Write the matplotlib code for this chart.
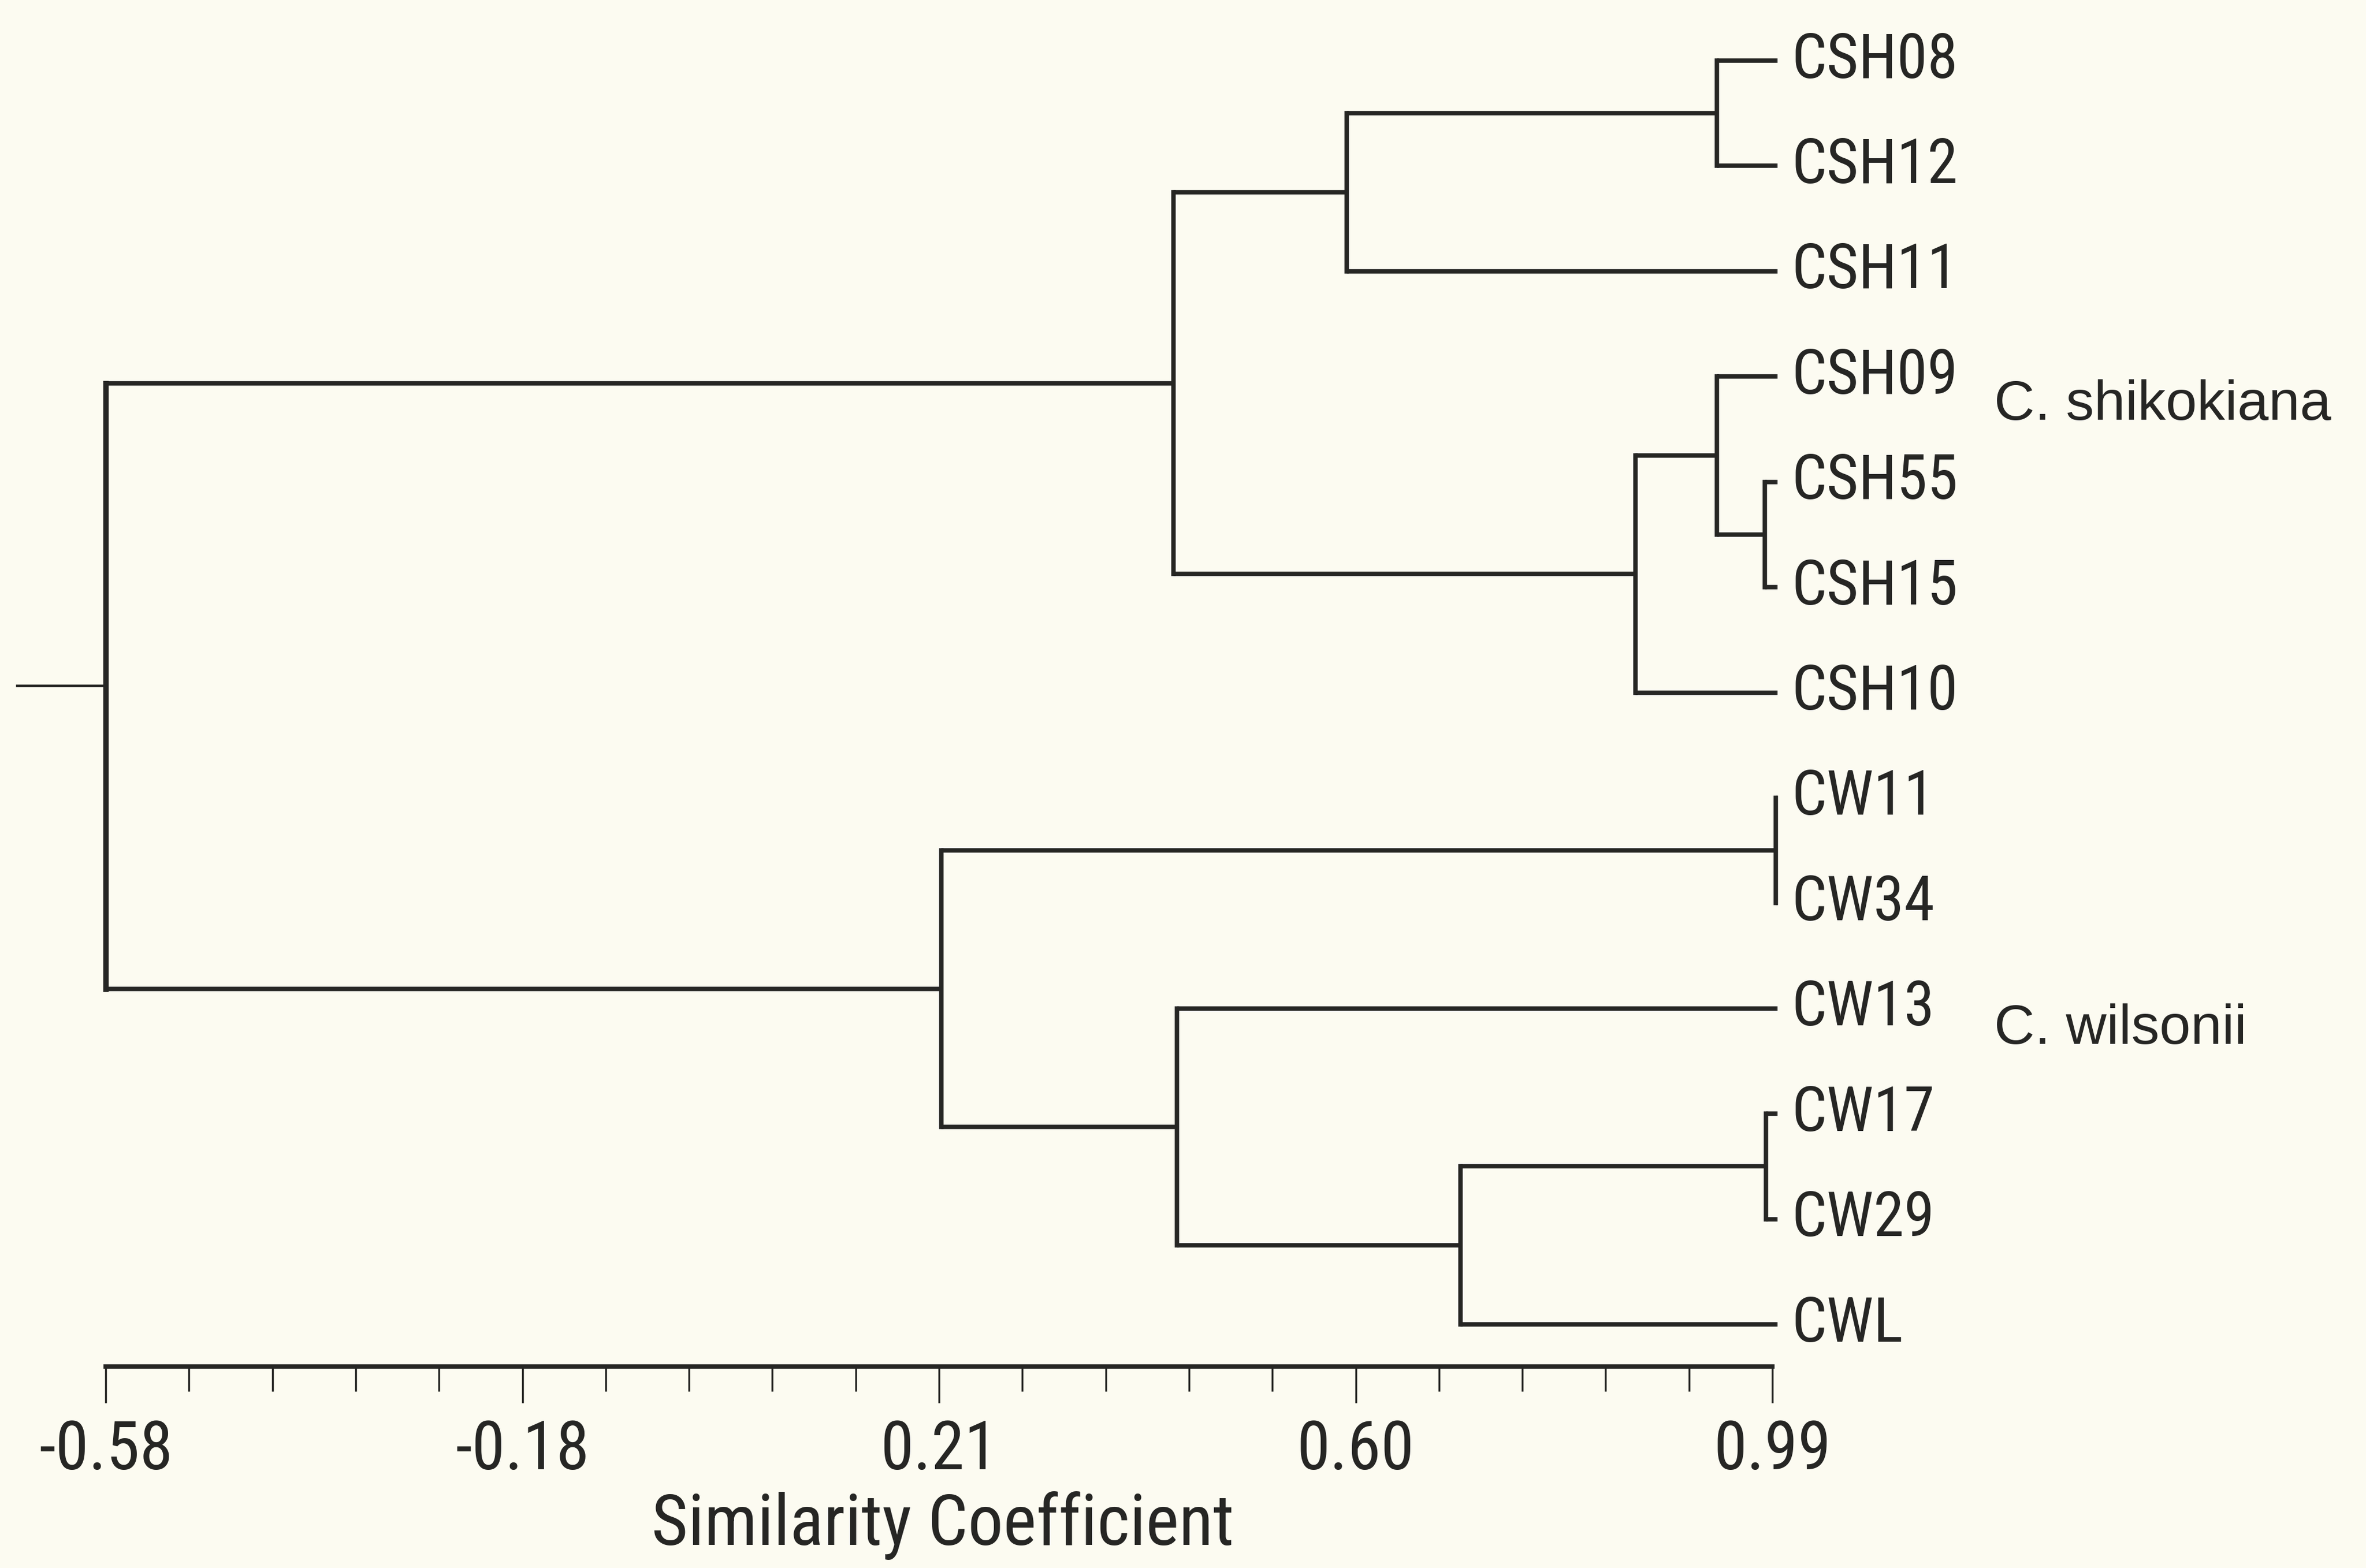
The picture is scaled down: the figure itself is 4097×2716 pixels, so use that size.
import matplotlib
matplotlib.use("Agg")
import matplotlib.pyplot as plt
from matplotlib.ticker import FixedLocator
import logging
logging.getLogger('matplotlib.font_manager').setLevel(logging.ERROR)

# ---- data ----
leaf_labels = ['CSH08', 'CSH12', 'CSH11', 'CSH09', 'CSH55', 'CSH15', 'CSH10',
               'CW11', 'CW34', 'CW13', 'CW17', 'CW29', 'CWL']
merge_left = ['CSH08', 'n0', 'CSH55', 'CSH09', 'n3', 'n1',
              'CW11', 'CW17', 'n7', 'CW13', 'n6', 'n5']
merge_right = ['CSH12', 'CSH11', 'CSH15', 'n2', 'CSH10', 'n4',
               'CW34', 'CW29', 'CWL', 'n8', 'n9', 'n10']
merge_sim = [0.938, 0.589, 0.983, 0.938, 0.861, 0.426,
             0.993, 0.984, 0.696, 0.429, 0.207, -0.58]
leaf_sim = 0.995
group_labels = ['C. shikokiana', 'C. wilsonii']
group_pos = [3.27, 9.2]
tick_labels = ['-0.58', '-0.18', '0.21', '0.60', '0.99']
xmin, xmax = -0.58, 0.99
xlabel = 'Similarity Coefficient'

W, H = 4097, 2716
bg = '#fcfbf1'
ink = '#262624'
narrow = ['Roboto Condensed', 'Archivo Narrow', 'PT Sans Narrow', 'IBM Plex Sans Condensed',
          'Liberation Sans']
regular = ['Arimo', 'Liberation Sans', 'DejaVu Sans']

fig = plt.figure(figsize=(W / 100, H / 100), dpi=100, facecolor=bg)
left_px, right_px, axis_y_px = 183, 3069, 2367
ax = fig.add_axes([left_px / W, (H - axis_y_px) / H, (right_px - left_px) / W, axis_y_px / H])
ax.set_facecolor(bg)

pos = {}
for i, name in enumerate(leaf_labels):
    pos[name] = (leaf_sim, float(i))

lw = 5.5
for k, (a, b, s) in enumerate(zip(merge_left, merge_right, merge_sim)):
    xa, ya = pos[a]
    xb, yb = pos[b]
    y = (ya + yb) / 2
    node_lw = 6.8 if k == len(merge_sim) - 1 else lw
    ax.plot([s, s], [ya, yb], color=ink, lw=node_lw, solid_capstyle='projecting', clip_on=False)
    ax.plot([s, xa], [ya, ya], color=ink, lw=lw, solid_capstyle='butt', clip_on=False)
    ax.plot([s, xb], [yb, yb], color=ink, lw=lw, solid_capstyle='butt', clip_on=False)
    pos['n%d' % k] = (s, y)

rx, ry = pos['n%d' % (len(merge_sim) - 1)]
ax.plot([rx - 0.083, rx], [ry, ry], color=ink, lw=3.2, clip_on=False)

for i, name in enumerate(leaf_labels):
    ax.text(leaf_sim + 0.013, i, name, va='center', ha='left', fontsize=77,
            family=narrow, color=ink)

for g, yv in zip(group_labels, group_pos):
    ax.text(1.199, yv, g, va='center', ha='left', fontsize=70, family=regular, color=ink)

ax.set_xlim(xmin, xmax)
ax.set_ylim(12.40, -0.576)
for sp in ['top', 'right', 'left']:
    ax.spines[sp].set_visible(False)
ax.spines['bottom'].set_linewidth(5.5)
ax.spines['bottom'].set_color(ink)
ax.set_yticks([])

step = (xmax - xmin) / 4
major = [xmin + i * step for i in range(5)]
minor = [xmin + i * step / 5 for i in range(21)]
ax.xaxis.set_major_locator(FixedLocator(major))
ax.xaxis.set_minor_locator(FixedLocator(minor))
ax.set_xticklabels(tick_labels, family=narrow, fontsize=84, color=ink)
ax.tick_params(axis='x', which='major', length=45, width=2.4, color=ink, pad=20, direction='out')
ax.tick_params(axis='x', which='minor', length=31, width=2.4, color=ink, direction='out')

fig.text(1632 / W, 1 - 2643 / H, xlabel, ha='center', va='center', fontsize=88,
         family=narrow, color=ink)

fig.savefig('out.png', dpi=100, facecolor=bg)
